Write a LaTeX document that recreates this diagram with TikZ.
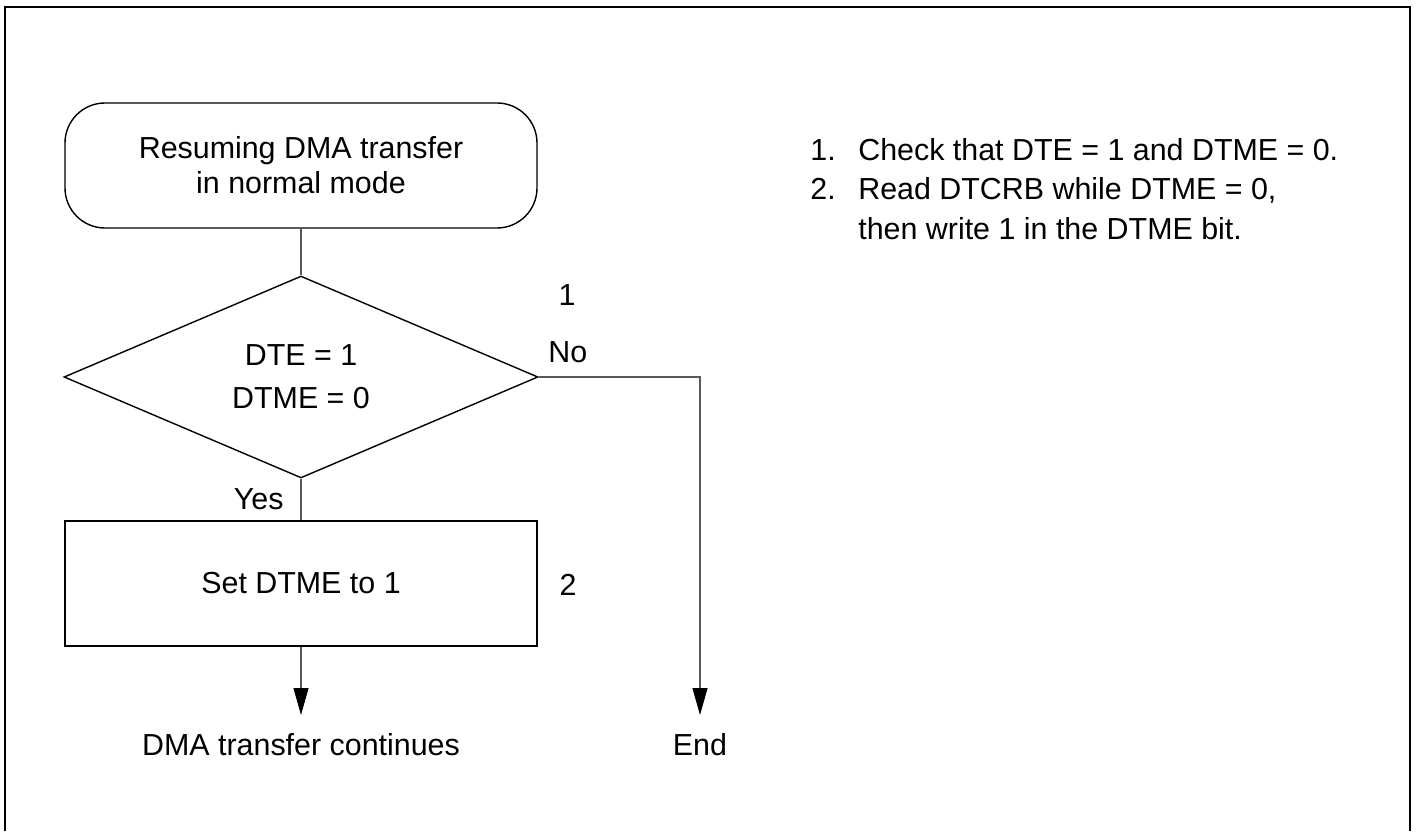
\documentclass[tikz,border=0pt]{standalone}
\usepackage{fontspec}
\setmainfont{Liberation Sans}
\usetikzlibrary{shapes.geometric, arrows.meta, positioning}

\begin{document}
\begin{tikzpicture}[
    terminal/.style={rectangle, draw, rounded corners=0.8cm, minimum width=9.44cm, minimum height=2.5cm, align=center, line width=0.8pt, font=\fontsize{17.3}{19.9}\selectfont},
    decision/.style={diamond, draw, minimum width=9.48cm, minimum height=3.64cm, inner sep=0pt, align=center, line width=0.8pt, font=\fontsize{17.3}{24.5}\selectfont},
    process/.style={rectangle, draw, minimum width=9.44cm, minimum height=2.5cm, align=center, line width=0.8pt, font=\fontsize{17.3}{20}\selectfont},
    outtext/.style={inner xsep=0pt, inner ysep=0.36cm, text height=0.44cm, text depth=0.1cm, font=\fontsize{17.3}{20}\selectfont},
    tag/.style={inner sep=0pt, font=\fontsize{17.3}{20}\selectfont},
    flow/.style={draw=black!65, line width=0.6pt},
    arrow/.style={flow, -{Triangle[length=0.54cm, width=0.3cm, color=black]}}
]
\useasboundingbox (0,0) rectangle (28.32,16.62);
\draw[line width=1.1pt] (0.1,0) -- (0.1,16.48) -- (28.2,16.48) -- (28.2,0);

\node[terminal] (start) at (6.02,13.31) {Resuming DMA transfer\\in normal mode};
\node[decision] (dec) at (6.02,9.08) {DTE = 1\\DTME = 0};
\node[process] (set) at (6.02,4.95) {Set DTME to 1};

\node[outtext, anchor=north] (cont) at (6.02,2.32) {DMA transfer continues};
\node[outtext, anchor=north] (endnode) at (14.0,2.32) {End};

\node[tag] (lblone) at (11.34,10.72) {1};
\node[tag] (lbltwo) at (11.36,4.92) {2};

\draw[flow] (start) -- (dec);
\draw[flow] (dec) -- node[tag, midway, left=0.34cm] {Yes} (set);
\draw[arrow] (dec.east) -| node[tag, pos=0.09, above=0.28cm] {No} (endnode.north);
\draw[arrow] (set) -- (cont.north);

\node[tag, align=left, anchor=north west, font=\fontsize{17.3}{22.5}\selectfont] (notes) at (16.2,13.86) {\makebox[0.96cm][l]{1.}Check that DTE = 1 and DTME = 0.\\
\makebox[0.96cm][l]{2.}Read DTCRB while DTME = 0,\\
\hspace*{0.96cm}then write 1 in the DTME bit.};
\end{tikzpicture}
\end{document}
